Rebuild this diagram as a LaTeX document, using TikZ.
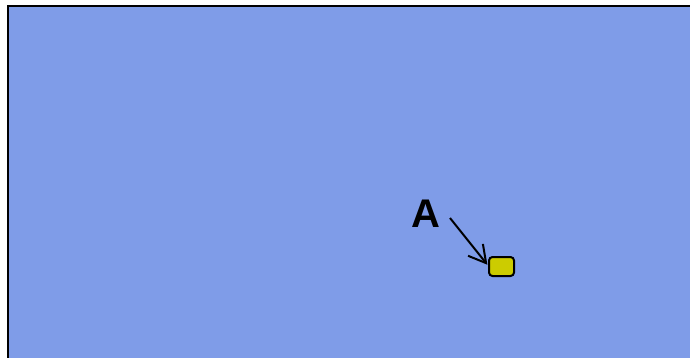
\documentclass[tikz,border=0pt]{standalone}
\usepackage{fontspec}
\setmainfont{Liberation Sans}
\usetikzlibrary{arrows.meta, positioning}

\definecolor{areablue}{HTML}{7F9CE8}
\definecolor{markyellow}{HTML}{CCCC00}

\begin{document}
\begin{tikzpicture}[
    x=1pt, y=-1pt,
    area/.style={draw=black, line width=2.4pt, fill=areablue},
    marker/.style={rectangle, draw=black, line width=2pt, rounded corners=3.5pt, fill=markyellow, minimum width=25pt, minimum height=19pt, inner sep=0pt},
    tag/.style={font=\bfseries\fontsize{40}{40}\selectfont, inner sep=0pt},
    arr/.style={-{Straight Barb[length=17pt, width=19pt, line width=2pt]}, line width=2pt}
]
\useasboundingbox (0,0) rectangle (690,357);
\clip (0,0) rectangle (690,357);

% Area
\fill[white] (0,0) rectangle (690,357);
\draw[area] (8,6) rectangle (720,380);

% Marker and its label
\node[marker] (box) at (501.5,266.5) {};
\node[tag] (lblA) at (426,214) {A};

% Arrow
\draw[arr, shorten >=1pt] ([xshift=24pt, yshift=-4pt]lblA.center) -- ([yshift=1pt]box.west);

\end{tikzpicture}
\end{document}
